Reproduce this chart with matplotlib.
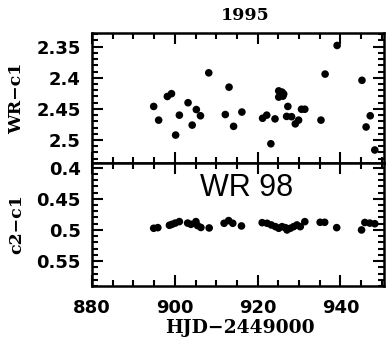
import numpy as np
import matplotlib
matplotlib.use('Agg')
import matplotlib.pyplot as plt
from matplotlib.ticker import MultipleLocator, FormatStrFormatter, FuncFormatter

# --- Data ---
# upper panel: WR - c1
hjd_wr = [894.9, 896.1, 898.2, 899.2, 900.2, 901.1, 903.2, 904.2, 905.2, 906.2,
          908.2, 912.2, 913.1, 914.2, 916.2, 921.2, 922.2, 923.2, 924.2,
          925.1, 925.9, 925.1, 926.1, 926.3, 927.3, 927.0, 928.2, 929.1, 929.9,
          930.6, 931.4, 935.3, 936.3, 939.2, 945.2, 946.2, 947.2, 948.3]
wr_c1 = [2.446, 2.468, 2.430, 2.4255, 2.492, 2.460, 2.440, 2.476, 2.451, 2.461,
         2.392, 2.459, 2.415, 2.478, 2.455, 2.465, 2.460, 2.506, 2.466,
         2.421, 2.423, 2.431, 2.4295, 2.426, 2.446, 2.462, 2.4625, 2.474, 2.468,
         2.4505, 2.4505, 2.468, 2.394, 2.348, 2.404, 2.479, 2.461, 2.516]

# lower panel: c2 - c1
hjd_cc = [894.9, 895.9, 898.7, 899.3, 900.1, 901.1, 903.1, 903.9, 905.1, 905.5,
          906.3, 908.3, 911.9, 913.0, 914.0, 916.1, 921.1, 922.3, 923.3, 924.3,
          925.1, 925.9, 926.7, 927.1, 927.9, 928.7, 929.5, 930.3, 931.4,
          935.1, 936.2, 939.1, 945.1, 945.9, 947.1, 948.3]
c2_c1 = [0.4973, 0.4963, 0.4925, 0.491, 0.489, 0.4866, 0.489, 0.491, 0.4866, 0.493,
         0.496, 0.4968, 0.4893, 0.485, 0.4893, 0.4936, 0.4883, 0.4893, 0.492, 0.4947,
         0.4973, 0.4947, 0.4963, 0.5, 0.4973, 0.4947, 0.492, 0.4947, 0.4867,
         0.4877, 0.4877, 0.4963, 0.5, 0.488, 0.489, 0.490]

plt.rcParams['font.family'] = 'DejaVu Sans'
fig = plt.figure(figsize=(3.87, 3.44), dpi=100)
ax1 = fig.add_axes([0.2377, 0.526, 0.7543, 0.378])
ax2 = fig.add_axes([0.2377, 0.1686, 0.7543, 0.3574], sharex=ax1)

ax1.scatter(hjd_wr, wr_c1, s=30, c='black', edgecolors='none', zorder=3)
ax2.scatter(hjd_cc, c2_c1, s=30, c='black', edgecolors='none', zorder=3)

ax1.set_xlim(880, 950.5)
ax1.set_ylim(2.537, 2.328)
ax2.set_ylim(0.59, 0.3926)

fmt = FuncFormatter(lambda v, p: '%g' % round(v, 3))
for ax in (ax1, ax2):
    ax.xaxis.set_major_locator(MultipleLocator(20))
    ax.xaxis.set_minor_locator(MultipleLocator(5))
    ax.yaxis.set_major_locator(MultipleLocator(0.05))
    ax.yaxis.set_minor_locator(MultipleLocator(0.01))
    ax.yaxis.set_major_formatter(fmt)
    ax.tick_params(which='both', direction='in', top=True, right=True, width=1.5)
    ax.tick_params(which='major', length=8, labelsize=13)
    ax.tick_params(which='minor', length=4)
    ax.tick_params(axis='y', which='major', pad=8)
    ax.tick_params(axis='x', which='major', pad=9)
    for sp in ax.spines.values():
        sp.set_linewidth(1.8)

ax1.tick_params(labelbottom=False)
ax2.xaxis.set_major_formatter(FormatStrFormatter('%d'))
for ax in (ax1, ax2):
    for lab in ax.get_yticklabels() + ax.get_xticklabels():
        lab.set_fontweight('bold')

lab_font = dict(fontsize=12.5, fontweight='bold', family='DejaVu Serif')
ax1.set_ylabel('WR\u2212c1', **lab_font)
ax2.set_ylabel('c2\u2212c1', **lab_font)
ax1.yaxis.set_label_coords(-0.23, 0.5)
ax2.yaxis.set_label_coords(-0.23, 0.5)
ax2.set_xlabel('HJD\u22122449000', fontsize=13.5, fontweight='bold', family='DejaVu Serif')
ax2.xaxis.set_label_coords(0.507, -0.268)
fig.text(245 / 387, 1 - 15 / 344, '1995', ha='center', va='center',
         fontsize=12.5, fontweight='bold', family='DejaVu Serif')
ax2.text(0.53, 0.80, 'WR 98', transform=ax2.transAxes, ha='center', va='center',
         fontsize=22, family='Liberation Sans')

fig.savefig('out.png', dpi=100)
